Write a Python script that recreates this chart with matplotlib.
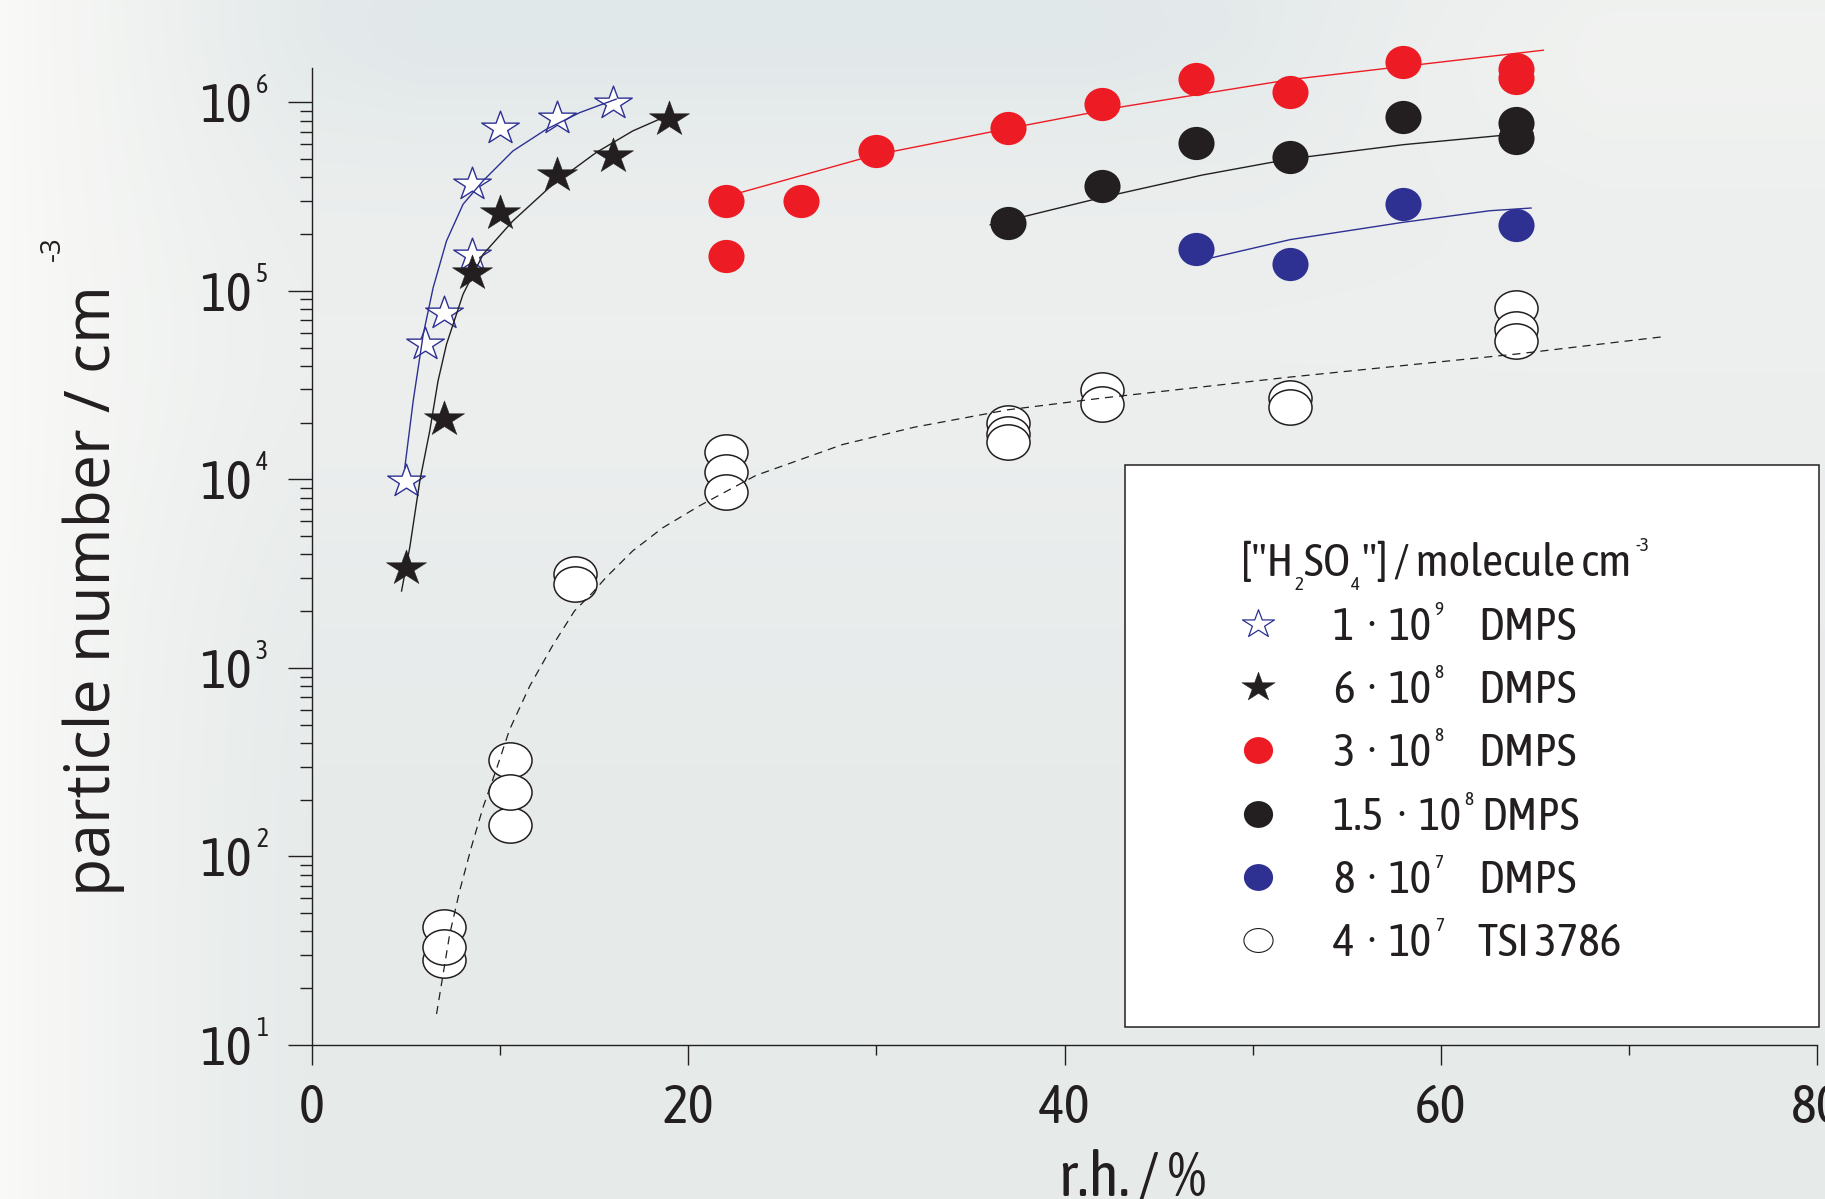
import numpy as np
import matplotlib
matplotlib.use("Agg")
import matplotlib.pyplot as plt
from matplotlib import font_manager
from matplotlib.font_manager import FontProperties
from matplotlib.path import Path
from matplotlib.lines import Line2D
from matplotlib.patches import Rectangle
from matplotlib.transforms import IdentityTransform
from matplotlib.ticker import LogLocator, NullFormatter, FixedLocator

W, H = 1825, 1199

#### data (r.h. in %, particle number in cm^-3)
rh_1e9 = [5, 6, 7, 8.5, 8.5, 10, 13, 16]
n_1e9 = [9.8e3, 5.2e4, 7.6e4, 1.55e5, 3.7e5, 7.3e5, 8.3e5, 9.9e5]

rh_6e8 = [5, 7, 8.5, 10, 13, 16, 19]
n_6e8 = [3.4e3, 2.1e4, 1.24e5, 2.6e5, 4.1e5, 5.2e5, 8.2e5]

rh_3e8 = [22, 22, 26, 30, 37, 42, 47, 52, 58, 64, 64]
n_3e8 = [3.0e5, 1.54e5, 3.0e5, 5.5e5, 7.3e5, 9.8e5, 1.33e6, 1.13e6, 1.64e6, 1.5e6, 1.35e6]

rh_15e8 = [37, 42, 47, 52, 58, 64, 64]
n_15e8 = [2.3e5, 3.6e5, 6.1e5, 5.1e5, 8.4e5, 7.8e5, 6.5e5]

rh_8e7 = [47, 52, 58, 64]
n_8e7 = [1.67e5, 1.38e5, 2.9e5, 2.24e5]

rh_4e7 = [7, 7, 7, 10.5, 10.5, 10.5, 14, 14, 22, 22, 22,
          37, 37, 37, 42, 42, 52, 52, 64, 64, 64]
n_4e7 = [42, 28.4, 33, 324, 147, 221, 3.15e3, 2.78e3, 1.4e4, 1.09e4, 8.6e3,
         2.0e4, 1.75e4, 1.58e4, 2.97e4, 2.52e4, 2.7e4, 2.42e4, 8.1e4, 6.25e4, 5.45e4]

# fit curves, points
fit_1e9_rh = [4.93, 5.38, 5.91, 6.44, 7.15, 8.03, 9.09, 10.68, 12.45, 14.22, 16.17]
fit_1e9_n = [1.15e4, 2.61e4, 5.86e4, 1.04e5, 1.84e5, 2.88e5, 3.83e5, 5.52e5, 7.19e5, 8.81e5, 1.04e6]

fit_6e8_rh = [4.76, 5.2, 5.73, 6.26, 6.7, 7.15, 8.03, 9.09, 10.68, 12.8, 15.1, 17.05, 18.9]
fit_6e8_n = [2.56e3, 4.37e3, 9.8e3, 1.81e4, 3.33e4, 5.21e4, 9.6e4, 1.56e5, 2.35e5,
             3.67e5, 5.41e5, 7.05e5, 8.5e5]

fit_3e8_rh = [22.0, 29.9, 37, 43.1, 52, 58, 65.45]
fit_3e8_n = [3.16e5, 5.25e5, 7.26e5, 9.48e5, 1.32e6, 1.55e6, 1.89e6]

fit_15e8_rh = [36.05, 42, 47.3, 52, 58, 64.9]
fit_15e8_n = [2.24e5, 3.13e5, 4.11e5, 5.01e5, 5.96e5, 6.92e5]

fit_8e7_rh = [46.55, 52, 58, 62.6, 64.8]
fit_8e7_n = [1.40e5, 1.87e5, 2.31e5, 2.66e5, 2.75e5]

fit_4e7_rh = [6.62, 6.97, 7.32, 7.85, 8.47, 9.09, 9.8, 10.5, 11.57, 12.8, 13.95, 14.92,
              15.63, 17.05, 18.64, 20.58, 23.6, 28.2, 32, 37, 42, 52, 64, 71.75]
fit_4e7_n = [14.6, 23.8, 38.7, 65.8, 112, 182, 290, 470, 800, 1320, 2004, 2512,
             3020, 4178, 5534, 7228, 1.05e4, 1.53e4, 1.89e4, 2.34e4, 2.70e4, 3.49e4, 4.62e4, 5.70e4]

# axis ticks
x_major = [0, 20, 40, 60, 80]
x_minor = [10, 30, 50, 70]
y_decades = [1, 2, 3, 4, 5, 6]

# legend
leg_title = ['["H', '2', 'SO', '4', '"] / molecule cm', '-3']
leg_mant = ['1', '6', '3', '1.5', '8', '4']
leg_exp = ['9', '8', '8', '8', '7', '7']
leg_inst = ['DMPS', 'DMPS', 'DMPS', 'DMPS', 'DMPS', 'TSI 3786']

INK = "#231f20"
RED = "#ed1c24"
NAVY = "#2e3192"

# fonts: look for a narrow face, else plain Liberation Sans
def pick_narrow():
    best, rank = None, 99
    for f in font_manager.fontManager.ttflist:
        nm = f.name.lower()
        st = str(f.stretch).lower()
        if f.style != "normal" or f.weight not in (400, "normal", "regular", "book"):
            continue
        if "narrow" in nm and "liberation" in nm:
            k = 0
        elif "condensed" in nm and "extra" not in nm:
            k = 1
        elif st in ("condensed", "semi-condensed"):
            k = 2
        else:
            continue
        if k < rank:
            best, rank = f.fname, k
    if best is None:
        return FontProperties(family="Liberation Sans")
    return FontProperties(fname=best)

NFP = pick_narrow()
names = {f.name for f in font_manager.fontManager.ttflist}
LABEL = "Open Sans" if "Open Sans" in names else "DejaVu Sans"

# marker shapes: slightly flattened circle and star
_c = Path.unit_circle()
ELL_W = Path(_c.vertices * [1, 0.82], _c.codes)
ELL_D = Path(_c.vertices * [1, 0.92], _c.codes)
_s = Path.unit_regular_star(5, 0.381966)
STAR = Path(_s.vertices * [1, 0.88], _s.codes)

fig = plt.figure(figsize=(W / 100, H / 100), dpi=100)
r = fig.canvas.get_renderer()
PX = IdentityTransform()

# size factor so the narrow texts keep about the reference widths
_t = fig.text(0, 0, "DMPS", fontproperties=NFP, fontsize=31, transform=PX)
KF = (100.0 / _t.get_window_extent(r).width) ** 0.75
_t.remove()

def nt(size):
    fp = NFP.copy()
    fp.set_size(size * KF)
    return fp

# background wash
gx = np.linspace(0, 1, 240)
gy = np.linspace(0, 1, 160)
X, Y = np.meshgrid(gx, gy)
img = np.ones((len(gy), len(gx), 3)) * np.array([0.905, 0.922, 0.920])

def blend(img, w, col):
    w = w[..., None]
    return img * (1 - w) + np.array(col) * w

img = blend(img, 0.55 * np.exp(-((Y - 0.28) / 0.2) ** 2), (0.945, 0.950, 0.945))
img = blend(img, 0.7 * np.exp(-((Y - 0.02) / 0.08) ** 2) * np.clip((X - 0.08) / 0.15, 0, 1)
            * np.clip((0.8 - X) / 0.2, 0, 1), (0.875, 0.905, 0.915))
img = blend(img, 0.75 * np.clip((X - 0.68) / 0.2, 0, 1) * np.exp(-((Y - 0.04) / 0.13) ** 2),
            (0.955, 0.958, 0.950))
img = blend(img, np.clip(1 - X / 0.17, 0, 1) ** 1.3, (0.978, 0.978, 0.970))
bg = fig.add_axes([0, 0, 1, 1], zorder=-10)
bg.imshow(img, aspect="auto", extent=(0, 1, 0, 1), interpolation="bicubic")
bg.axis("off")

ax = fig.add_axes([312 / W, 1 - 1045 / H, (1817 - 312) / W, (1045 - 67.5) / H])
ax.set_facecolor("none")
ax.set_yscale("log")
ax.set_xlim(0, 80)
ax.set_ylim(10, 1.53e6)

# data
ax.plot(rh_4e7, n_4e7, ls="none", marker=ELL_W, ms=31, mfc="white", mec=INK, mew=1.1,
        zorder=3, clip_on=False)
ax.plot(rh_1e9, n_1e9, ls="none", marker=STAR, ms=27, mfc="white", mec=NAVY, mew=1.0,
        zorder=3, clip_on=False)
ax.plot(rh_6e8, n_6e8, ls="none", marker=STAR, ms=29, mfc=INK, mec=INK, mew=0.3,
        zorder=3, clip_on=False)
ax.plot(rh_3e8, n_3e8, ls="none", marker=ELL_D, ms=26, mfc=RED, mew=0, zorder=3, clip_on=False)
ax.plot(rh_15e8, n_15e8, ls="none", marker=ELL_D, ms=26, mfc=INK, mew=0, zorder=3, clip_on=False)
ax.plot(rh_8e7, n_8e7, ls="none", marker=ELL_D, ms=26, mfc=NAVY, mew=0, zorder=3, clip_on=False)

ax.plot(fit_1e9_rh, fit_1e9_n, color=NAVY, lw=1.0, zorder=4)
ax.plot(fit_6e8_rh, fit_6e8_n, color=INK, lw=1.0, zorder=4)
ax.plot(fit_3e8_rh, fit_3e8_n, color=RED, lw=1.0, zorder=4, clip_on=False)
ax.plot(fit_15e8_rh, fit_15e8_n, color=INK, lw=1.0, zorder=4)
ax.plot(fit_8e7_rh, fit_8e7_n, color=NAVY, lw=1.0, zorder=4)
ax.plot(fit_4e7_rh, fit_4e7_n, color=INK, lw=0.9, dashes=(6.5, 4.8), zorder=4)

# axes styling
for s in ["top", "right"]:
    ax.spines[s].set_visible(False)
for s in ["left", "bottom"]:
    ax.spines[s].set_color(INK)
    ax.spines[s].set_linewidth(1.0)

ax.xaxis.set_major_locator(FixedLocator(x_major))
ax.xaxis.set_minor_locator(FixedLocator(x_minor))
ax.set_xticklabels([str(v) for v in x_major], fontproperties=nt(37), color=INK)
ax.tick_params(axis="x", which="major", length=14.4, width=1.0, color=INK, pad=12)
ax.tick_params(axis="x", which="minor", length=7.2, width=1.0, color=INK)

ax.yaxis.set_major_locator(FixedLocator([10.0 ** k for k in y_decades]))
ax.yaxis.set_minor_locator(LogLocator(base=10, subs=np.arange(2, 10)))
ax.yaxis.set_minor_formatter(NullFormatter())
ax.tick_params(axis="y", which="major", length=17, width=1.0, color=INK, labelleft=False)
ax.tick_params(axis="y", which="minor", length=8.6, width=1.0, color=INK)

# y tick labels 10^k
for k in y_decades:
    ax.annotate("10", xy=(0, 10.0 ** k), xycoords=ax.get_yaxis_transform(),
                xytext=(-60, -20), textcoords="offset pixels", ha="right", va="baseline",
                fontproperties=nt(37), color=INK, annotation_clip=False)
    ax.annotate(str(k), xy=(0, 10.0 ** k), xycoords=ax.get_yaxis_transform(),
                xytext=(-56, 9), textcoords="offset pixels", ha="left", va="baseline",
                fontproperties=nt(17.5), color=INK, annotation_clip=False)

# axis labels
fig.text(1133, 3, "r.h. / %", ha="center", va="baseline", fontproperties=nt(42),
         color=INK, transform=PX)
yl = fig.text(110, H - 896, "particle number / cm", rotation=90, rotation_mode="anchor",
              ha="left", va="baseline", fontsize=45, family=LABEL, color=INK, transform=PX)
ext = yl.get_window_extent(r)
fig.text(60, ext.y1 + 24, "-3", rotation=90, rotation_mode="anchor", ha="left",
         va="baseline", fontsize=20, family=LABEL, color=INK, transform=PX)

# legend box
fig.add_artist(Rectangle((1125, H - 1027), 1819 - 1125, 1027 - 464.5, transform=PX,
                         facecolor="white", edgecolor=INK, lw=1.1, zorder=5))

def put_runs(x, y, parts):
    for s, size, dy, gap in parts:
        t = fig.text(x, y + dy, s, fontproperties=nt(size), color=INK,
                     ha="left", va="baseline", transform=PX, zorder=6)
        x += t.get_window_extent(r).width + gap
    return x

tb = H - 576
put_runs(1241, tb, [(leg_title[0], 31, 0, 1), (leg_title[1], 13, -14, 1),
                    (leg_title[2], 31, 0, 1), (leg_title[3], 13, -14, 2),
                    (leg_title[4], 31, 0, 4), (leg_title[5], 13, 25, 0)])

row_y = [624, 687, 750, 814, 877, 940]
leg_marker = [dict(marker=STAR, ms=23, mfc="white", mec=NAVY, mew=0.9),
              dict(marker=STAR, ms=24, mfc=INK, mec=INK, mew=0.3),
              dict(marker=ELL_D, ms=21, mfc=RED, mew=0),
              dict(marker=ELL_D, ms=21, mfc=INK, mew=0),
              dict(marker=ELL_D, ms=21, mfc=NAVY, mew=0),
              dict(marker=ELL_W, ms=21, mfc="white", mec=INK, mew=0.8)]
for i, yc in enumerate(row_y):
    fig.add_artist(Line2D([1258], [H - yc], transform=PX, ls="none", zorder=6, **leg_marker[i]))
    xe = put_runs(1333, H - yc - 16, [(leg_mant[i], 31, 0, 12), ("·", 31, 0, 12),
                                      ("10", 31, 0, 3), (leg_exp[i], 13, 25, 0)])
    fig.text(max(1478, xe + 8), H - yc - 16, leg_inst[i], fontproperties=nt(31), color=INK,
             ha="left", va="baseline", transform=PX, zorder=6)

fig.savefig("out.png", dpi=100)
